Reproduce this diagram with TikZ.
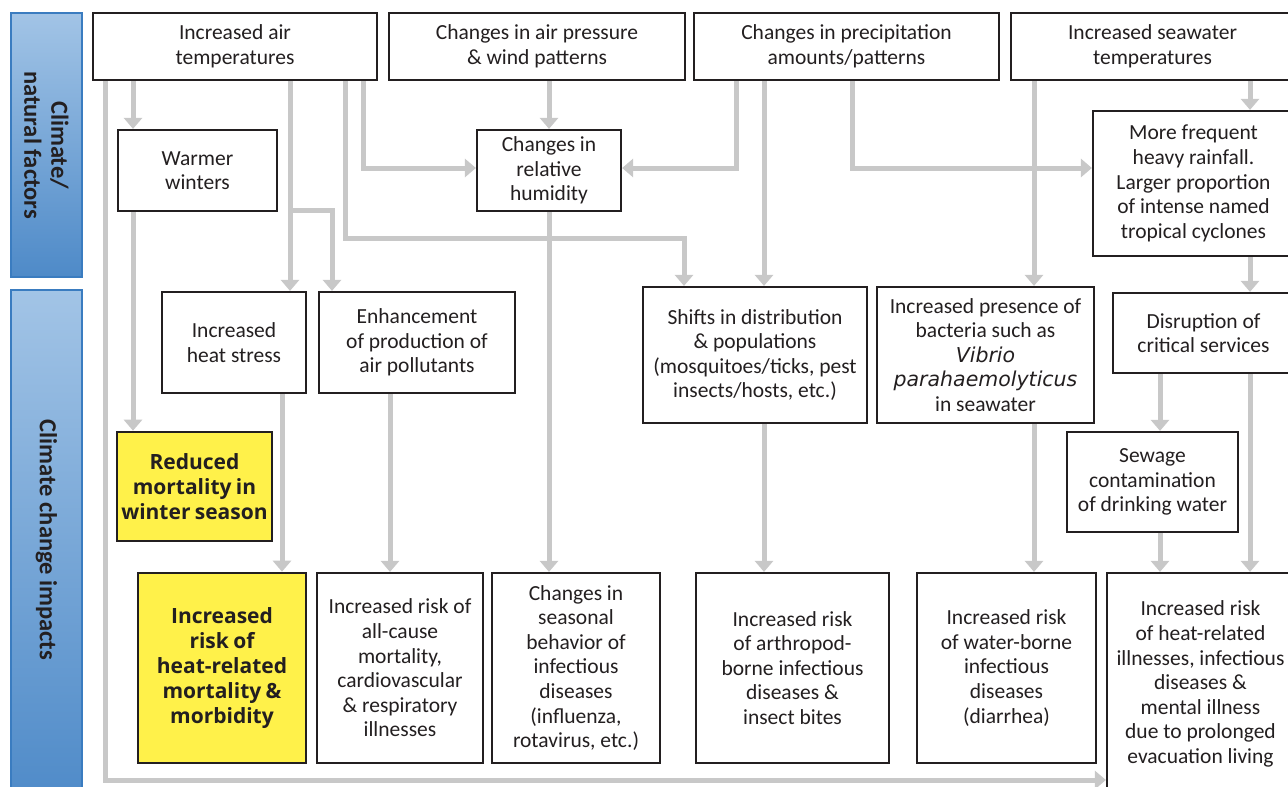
\documentclass[tikz,border=0pt]{standalone}
\usepackage{fontspec}
\setmainfont{Carlito}
\newfontfamily\heavyfont{Open Sans}
\newfontfamily\obliquefont{DejaVu Sans}
\usetikzlibrary{arrows.meta,backgrounds}

\definecolor{ink}{RGB}{35,31,32}
\definecolor{wire}{RGB}{200,200,200}
\definecolor{hot}{RGB}{255,241,74}
\definecolor{paneltop}{RGB}{162,196,230}
\definecolor{panelbot}{RGB}{78,138,200}
\definecolor{paneledge}{RGB}{58,124,192}

\newcommand{\bodyfont}{\fontsize{21.5}{24.6}\selectfont}
\newcommand{\hotfont}{\heavyfont\bfseries\fontsize{21}{25}\selectfont\spaceskip=0.8\fontdimen2\font plus 0.1em}
\newcommand{\panelfont}{\bfseries\fontsize{24.5}{27}\selectfont}
\newcommand{\species}[1]{{\obliquefont\itshape\fontsize{20.5}{24.6}\selectfont #1}}

\begin{document}
\begin{tikzpicture}[x=1pt,y=-1pt,
  box/.style={draw=ink, line width=2.2pt, fill=white, text=ink, align=center,
              inner sep=0pt, font=\bodyfont},
  hotbox/.style={box, line width=2.6pt, fill=hot, font=\hotfont},
  wh/.style 2 args={minimum width=#1pt, minimum height=#2pt},
  arr/.style={draw=wire, line width=5pt, -{Triangle[width=18pt,length=11pt]}},
  panel/.style={top color=paneltop, bottom color=panelbot, draw=paneledge, line width=1.6pt},
  paneltext/.style={text=ink, align=center, font=\panelfont, rotate=-90}
]
\clip (0,0) rectangle (1288,787);

% side panels
\shade[panel] (11,13) rectangle (82,277);
\node[paneltext] (lab1) at (46.5,145) {Climate/\\natural factors};
\shade[panel] (11,290) rectangle (82,805);
\node[paneltext] (lab2) at (46.5,540) {Climate change impacts};

% climate / natural factors
\node[box, wh={284}{67}] (A) at (235,46.5) {Increased air\\temperatures};
\node[box, wh={296}{67}] (B) at (537,46.5) {Changes in air pressure\\\& wind patterns};
\node[box, wh={305}{67}] (C) at (846.5,46.5) {Changes in precipitation\\amounts/patterns};
\node[box, wh={283}{67}] (D) at (1152.5,46.5) {Increased seawater\\temperatures};

\node[box, wh={159}{81}] (warm) at (197.5,170.5) {Warmer\\winters};
\node[box, wh={144}{81}] (hum) at (549,170.5) {Changes in\\relative\\humidity};
\node[box, wh={201}{145}] (rain) at (1193.5,183.5) {More frequent\\heavy rainfall.\\Larger proportion\\of intense named\\tropical cyclones};

% intermediate impacts
\node[box, wh={144}{101}] (heat) at (234,342.5) {Increased\\heat stress};
\node[box, wh={196}{101}] (enh) at (417,342.5) {Enhancement\\of production of\\air pollutants};
\node[box, wh={224}{136}] (shift) at (755,355) {Shifts in distribution\\\& populations\\(mosquitoes/ticks, pest\\insects/hosts, etc.)};
\node[box, wh={217}{136}] (bact) at (985.5,355) {Increased presence of\\bacteria such as\\\species{Vibrio}\\\species{parahaemolyticus}\\in seawater};
\node[box, wh={181}{80}] (disr) at (1203.5,333) {Disruption of\\critical services};
\node[box, wh={171}{100}] (sew) at (1152.5,482) {Sewage\\contamination\\of drinking water};
\node[hotbox, wh={155}{109}] (red) at (194.5,486.5) {Reduced\\mortality in\\winter season};

% health outcomes
\node[hotbox, wh={168}{190}] (hrisk) at (222,668) {Increased\\risk of\\heat-related\\mortality \&\\morbidity};
\node[box, wh={166}{190}] (allc) at (400,668) {Increased risk of\\all-cause\\mortality,\\cardiovascular\\\& respiratory\\illnesses};
\node[box, wh={168}{190}] (seas) at (576,668) {Changes in\\seasonal\\behavior of\\infectious\\diseases\\(influenza,\\rotavirus, etc.)};
\node[box, wh={193}{190}] (arth) at (792.5,668) {Increased risk\\of arthropod-\\borne infectious\\diseases \&\\insect bites};
\node[box, wh={179}{190}] (water) at (1006.5,668) {Increased risk\\of water-borne\\infectious\\diseases\\(diarrhea)};
\node[box, wh={187}{222}] (evac) at (1200.5,684) {Increased risk\\of heat-related\\illnesses, infectious\\diseases \&\\mental illness\\due to prolonged\\evacuation living};

% channel positions of the connectors
\coordinate (xL) at (105,0);
\coordinate (xW) at (133,0);
\coordinate (xH) at (290,0);
\coordinate (xE) at (332,0);
\coordinate (xS) at (345,0);
\coordinate (xR) at (363,0);
\coordinate (xF) at (684,0);
\coordinate (xC1) at (736,0);
\coordinate (xC2) at (764,0);
\coordinate (xC3) at (852,0);
\coordinate (xD1) at (1034,0);
\coordinate (xG) at (1160,0);
\coordinate (xD2) at (1250,0);
\coordinate (xHs) at (282,0);
\coordinate (xP) at (390,0);
\coordinate (yH) at (0,168);
\coordinate (yT) at (0,238);
\coordinate (yB) at (0,780);
\coordinate (jH) at (290,210);

\begin{scope}[on background layer]
\fill[white] (0,0) rectangle (1288,787);
% from increased air temperatures
\draw[arr] (A.south -| xL) |- (evac.west |- yB);
\draw[arr] (A.south -| xW) -- (warm.north -| xW);
\draw[arr] (A.south -| xH) -- (heat.north -| xH);
\draw[arr] (jH) -| (enh.north -| xE);
\draw[arr] (A.south -| xS) |- (yT -| xF) -- (shift.north -| xF);
\draw[arr] (A.south -| xR) |- (hum.west |- yH);
% from pressure and precipitation
\draw[arr] (B.south -| hum.north) -- (hum.north);
\draw[arr] (C.south -| xC1) |- (hum.east |- yH);
\draw[arr] (C.south -| xC2) -- (shift.north -| xC2);
\draw[arr] (C.south -| xC3) |- (rain.west |- yH);
% from seawater temperatures
\draw[arr] (D.south -| xD1) -- (bact.north -| xD1);
\draw[arr] (D.south -| xD2) -- (rain.north -| xD2);
\draw[arr] (rain.south -| xD2) -- (disr.north -| xD2);
\draw[arr] (disr.south -| xG) -- (sew.north -| xG);
\draw[arr] (disr.south -| xD2) -- (evac.north -| xD2);
\draw[arr] (sew.south -| xG) -- (evac.north -| xG);
% down to the health outcomes
\draw[arr] (warm.south -| xW) -- (red.north -| xW);
\draw[arr] (heat.south -| xHs) -- (hrisk.north -| xHs);
\draw[arr] (enh.south -| xP) -- (allc.north -| xP);
\draw[arr] (hum.south) -- (seas.north -| hum.south);
\draw[arr] (shift.south -| xC2) -- (arth.north -| xC2);
\draw[arr] (bact.south -| xD1) -- (water.north -| xD1);
\end{scope}
\end{tikzpicture}
\end{document}
